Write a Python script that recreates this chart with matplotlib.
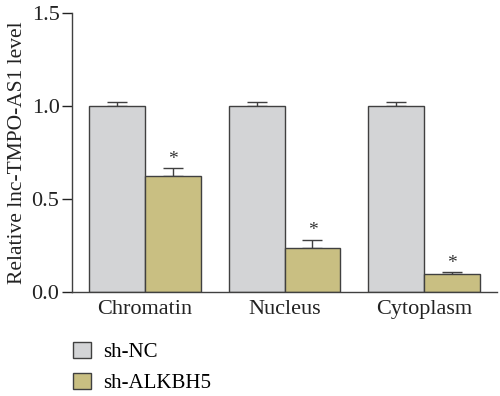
import numpy as np
import matplotlib
matplotlib.use("Agg")
import matplotlib.pyplot as plt
from matplotlib.patches import Patch

# -------------------- datos --------------------
categories = ["Chromatin", "Nucleus", "Cytoplasm"]
series = ["sh-NC", "sh-ALKBH5"]
nc_vals = [1.0, 1.0, 1.0]
nc_err = [0.023, 0.023, 0.023]
kd_vals = [0.625, 0.238, 0.098]
kd_err = [0.040, 0.042, 0.009]
signif = ["*", "*", "*"]
yticks = [0.0, 0.5, 1.0, 1.5]

plt.rcParams["font.family"] = ["Liberation Serif", "DejaVu Serif"]

c_nc = "#d3d4d6"
c_kd = "#c9bf82"
edge = "#404040"
txt = "#222222"

fig = plt.figure(figsize=(5.0, 3.96), dpi=100)
ax = fig.add_axes([0.144, 0.2626, 0.850, 0.7046])

x = np.arange(len(categories))
w = 0.4
ax.bar(x - w/2, nc_vals, w, color=c_nc, edgecolor=edge, linewidth=1.0, zorder=2)
ax.bar(x + w/2, kd_vals, w, color=c_kd, edgecolor=edge, linewidth=1.0, zorder=2)
# barras de error (solo hacia arriba)
ax.errorbar(x - w/2, nc_vals, yerr=[np.zeros(3), nc_err], fmt="none",
            ecolor=edge, elinewidth=1.0, capsize=7.5, capthick=1.0, zorder=1)
ax.errorbar(x + w/2, kd_vals, yerr=[np.zeros(3), kd_err], fmt="none",
            ecolor=edge, elinewidth=1.0, capsize=7.5, capthick=1.0, zorder=1)

for xi, v, e, s in zip(x + w/2, kd_vals, kd_err, signif):
    ax.text(xi, v + e + 0.003, s, ha="center", va="bottom", fontsize=14, color="#333333")

ax.set_xlim(-0.521, 2.521)
ax.set_ylim(0, 1.5)
ax.set_yticks(yticks)
ax.set_yticklabels([f"{t:.1f}" for t in yticks])
ax.set_xticks(x)
ax.set_xticklabels(categories)
ax.tick_params(axis="x", length=0, labelsize=16, pad=6, colors=txt)
ax.tick_params(axis="y", length=7, width=1.0, labelsize=16, pad=2, colors=txt)
ax.set_ylabel("Relative lnc-TMPO-AS1 level", fontsize=15.5, color=txt, labelpad=3)
for side in ["top", "right"]:
    ax.spines[side].set_visible(False)
for side in ["left", "bottom"]:
    ax.spines[side].set_color(edge)
    ax.spines[side].set_linewidth(1.0)

handles = [Patch(facecolor=c_nc, edgecolor=edge, linewidth=1.0),
           Patch(facecolor=c_kd, edgecolor=edge, linewidth=1.0)]
fig.legend(handles, series, loc="upper left", bbox_to_anchor=(0.146, 0.136),
           frameon=False, handlelength=0.87, handleheight=0.82,
           handletextpad=0.6, labelspacing=0.5, borderpad=0, borderaxespad=0,
           prop={"size": 15})

fig.savefig("out.png", dpi=100)
